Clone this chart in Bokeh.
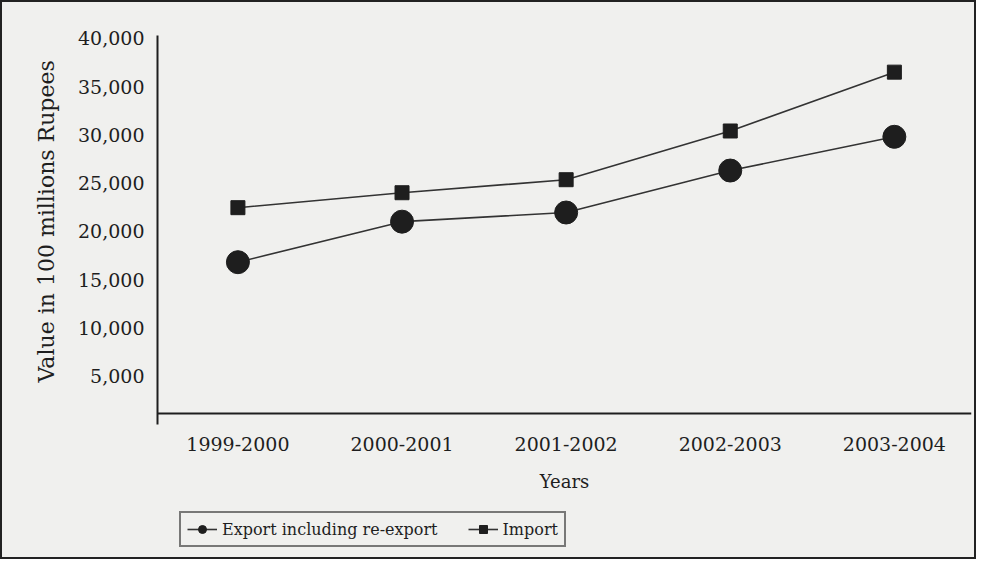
from bokeh.plotting import figure
from bokeh.models import Legend, LegendItem, FixedTicker, Range1d, Title
from bokeh.embed import file_html
from bokeh.resources import INLINE

years = ["1999-2000", "2000-2001", "2001-2002", "2002-2003", "2003-2004"]
export_vals = [16800, 21000, 21950, 26300, 29800]
import_vals = [22450, 24000, 25350, 30400, 36500]
y_ticks = [5000, 10000, 15000, 20000, 25000, 30000, 35000, 40000]
x_axis_at = 1100

xs = list(range(len(years)))
FONT = "DejaVu Serif"
INK = "#1e1e1e"
BG = "#f0f0ee"

p = figure(width=972, height=555, frame_width=814, frame_height=518,
           output_backend="svg", toolbar_location=None,
           x_range=Range1d(-0.49, 4.47), y_range=Range1d(-13400, 40300),
           min_border_left=155, min_border_top=33, min_border_right=3,
           min_border_bottom=4)
p.background_fill_alpha = 0
p.border_fill_alpha = 0
p.outline_line_color = None
p.grid.grid_line_color = None
p.styles = {"border": "2px solid #222", "background-color": BG}

l1 = p.line(xs, export_vals, line_color="#333", line_width=1.6)
c1 = p.scatter(xs, export_vals, marker="circle", size=23, color=INK)
l2 = p.line(xs, import_vals, line_color="#333", line_width=1.6)
c2 = p.scatter(xs, import_vals, marker="square", size=14, color=INK)

p.xaxis.ticker = FixedTicker(ticks=xs)
p.xaxis.major_label_overrides = {i: y for i, y in enumerate(years)}
p.xaxis.fixed_location = x_axis_at
p.yaxis.ticker = FixedTicker(ticks=y_ticks)
p.yaxis.major_label_overrides = {v: f"{v:,}" for v in y_ticks}
p.yaxis.bounds = (0, 40300)

for ax in (p.xaxis[0], p.yaxis[0]):
    ax.axis_line_color = INK
    ax.axis_line_width = 2
    ax.major_tick_line_color = None
    ax.minor_tick_line_color = None
    ax.major_label_text_font = FONT
    ax.major_label_text_font_size = "19px"
    ax.major_label_text_color = INK
    ax.axis_label_text_font = FONT
    ax.axis_label_text_font_size = "18px"
    ax.axis_label_text_font_style = "normal"
    ax.axis_label_text_color = INK

p.xaxis.major_label_standoff = 17
p.yaxis.major_label_standoff = 7
p.xaxis.axis_label = "Years"
p.xaxis.axis_label_standoff = 17

ylab = Title(text="Value in 100 millions Rupees", align="left", offset=171,
             text_font=FONT, text_font_size="22px", text_font_style="normal",
             text_color=INK, standoff=34)
p.add_layout(ylab, "left")

legend = Legend(items=[LegendItem(label="Export including re-export", renderers=[l1, c1]),
                       LegendItem(label="Import", renderers=[l2, c2])],
                orientation="horizontal", location=(22, 6))
legend.label_text_font = FONT
legend.label_text_font_size = "16px"
legend.label_text_color = INK
legend.border_line_color = "#000000"
legend.border_line_width = 2
legend.background_fill_color = BG
legend.background_fill_alpha = 1
legend.spacing = 30
legend.glyph_width = 30
legend.label_standoff = 5
legend.padding = 6
legend.margin = 0
p.add_layout(legend, "center")

open("out.html", "w").write(file_html(p, INLINE))
